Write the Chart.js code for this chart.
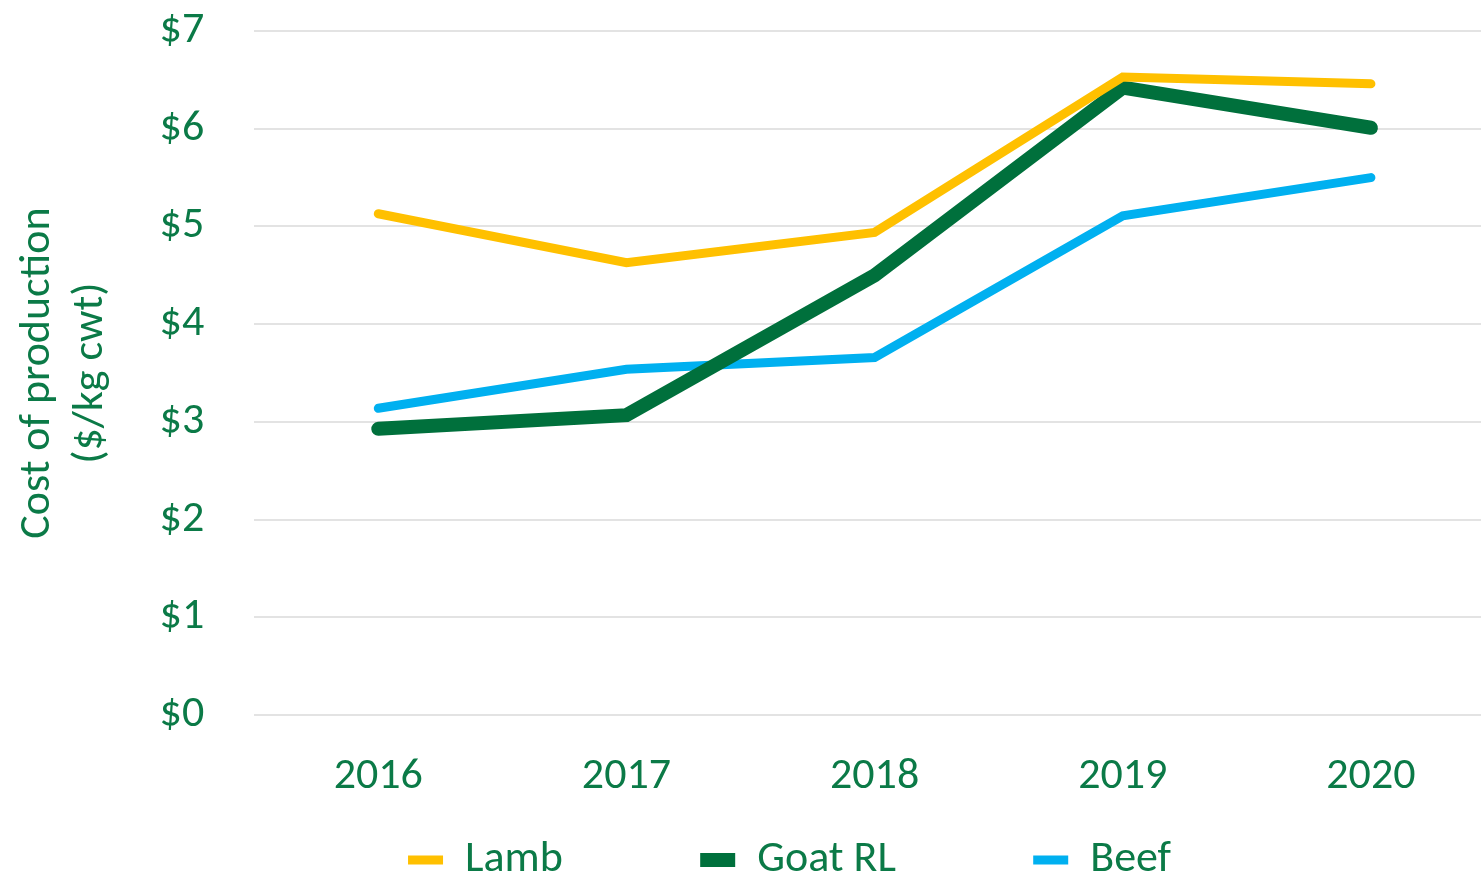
<!DOCTYPE html>
<html>
<head>
<meta charset="utf-8">
<script src="https://cdn.jsdelivr.net/npm/chart.js@4"></script>
<style>
  html, body { margin: 0; padding: 0; background: #fff; overflow: hidden; }
  /* a bit wider than the window: the original plot runs past its right edge */
  #wrap { width: 1495px; height: 879px; }
</style>
</head>
<body>
<div id="wrap"><canvas id="costChart"></canvas></div>
<script>
const years = ['2016', '2017', '2018', '2019', '2020'];
const lamb = [5.13, 4.63, 4.94, 6.53, 6.46];
const goatRL = [2.93, 3.07, 4.50, 6.42, 6.01];
const beef = [3.14, 3.54, 3.66, 5.11, 5.50];

const textGreen = '#0B7A47';
const fontFamily = 'Carlito, "Liberation Sans Narrow", "Open Sans", sans-serif';
const fontSize = 44;

const ctx = document.getElementById('costChart').getContext('2d');
new Chart(ctx, {
    type: 'line',
    data: {
        labels: years,
        datasets: [
            { label: 'Lamb', data: lamb, borderColor: '#FFC000', backgroundColor: '#FFC000',
              borderWidth: 9, borderCapStyle: 'round', pointRadius: 0, tension: 0 },
            { label: 'Goat RL', data: goatRL, borderColor: '#00703C', backgroundColor: '#00703C',
              borderWidth: 14, borderCapStyle: 'round', pointRadius: 0, tension: 0 },
            { label: 'Beef', data: beef, borderColor: '#00B0F0', backgroundColor: '#00B0F0',
              borderWidth: 9, borderCapStyle: 'round', pointRadius: 0, tension: 0 }
        ]
    },
    options: {
        responsive: true,
        maintainAspectRatio: false,
        animation: false,
        // extra left padding pushes the legend right; the y title pulls back with a negative top padding
        layout: { padding: { left: 84, right: 0, top: 0, bottom: -13 } },
        plugins: {
            tooltip: { enabled: false },
            legend: {
                position: 'bottom',
                labels: {
                    usePointStyle: true,
                    pointStyle: 'line',
                    pointStyleWidth: 35,
                    padding: 8,
                    color: textGreen,
                    font: { family: fontFamily, size: fontSize },
                    // wide gaps between entries, as in the original
                    generateLabels: chart => {
                        const items = Chart.defaults.plugins.legend.labels.generateLabels(chart);
                        items.forEach((it, i) => {
                            if (i < items.length - 1) it.text = it.text + ' '.repeat(13);
                        });
                        return items;
                    }
                }
            }
        },
        scales: {
            x: {
                offset: true,
                grid: { display: false },
                border: { display: false },
                ticks: { color: textGreen, font: { family: fontFamily, size: fontSize }, padding: 27 }
            },
            y: {
                min: 0,
                max: 7,
                grid: { color: '#E3E3E3', lineWidth: 2, drawTicks: false },
                border: { display: false },
                ticks: {
                    stepSize: 1,
                    padding: 50,
                    color: textGreen,
                    font: { family: fontFamily, size: fontSize },
                    callback: v => '$' + v
                },
                // tick padding would otherwise add space above the top gridline
                afterFit: scale => { scale.paddingTop = 31; },
                title: {
                    display: true,
                    text: ['Cost of production', '($/kg cwt)'],
                    color: textGreen,
                    font: { family: fontFamily, size: fontSize },
                    padding: { top: -72, bottom: -8 }
                }
            }
        }
    }
});
</script>
</body>
</html>
